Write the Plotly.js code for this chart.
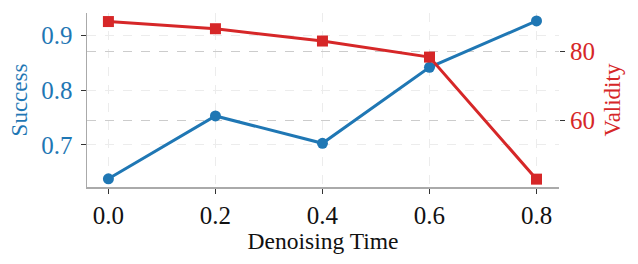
<!DOCTYPE html>
<html>
<head>
<meta charset="utf-8">
<script src="https://cdn.plot.ly/plotly-3.0.1.min.js"></script>
<style>
  html, body { margin: 0; padding: 0; background: #fff; }
  #chart { width: 638px; height: 264px; }
</style>
</head>
<body>
<div id="chart"></div>
<script>
// Denoising time sweep: success rate (left axis) and validity (right axis)
const denoisingTime = [0.0, 0.2, 0.4, 0.6, 0.8];
const success = [0.638, 0.753, 0.703, 0.842, 0.927];
const validity = [88.8, 86.7, 83.1, 78.4, 42.7];

const xTicks = [0.0, 0.2, 0.4, 0.6, 0.8];
const xTickText = ['0.0', '0.2', '0.4', '0.6', '0.8'];
const successTicks = [0.7, 0.8, 0.9];
const successTickText = ['0.7', '0.8', '0.9'];
const validityTicks = [60, 80];
const validityTickText = ['60', '80'];

const BLUE = '#1f77b4';
const RED = '#d62728';
const FONT = 'Liberation Serif';

const traces = [
  {
    x: denoisingTime, y: success, yaxis: 'y', name: 'Success',
    mode: 'lines+markers', type: 'scatter',
    line: { color: BLUE, width: 3 },
    marker: { color: BLUE, size: 11, symbol: 'circle' }
  },
  {
    x: denoisingTime, y: validity, yaxis: 'y2', name: 'Validity',
    mode: 'lines+markers', type: 'scatter',
    line: { color: RED, width: 3 },
    marker: { color: RED, size: 11, symbol: 'square' }
  }
];

const layout = {
  width: 638, height: 264,
  margin: { l: 87, r: 79, t: 13, b: 77 },
  paper_bgcolor: '#fff', plot_bgcolor: '#fff',
  showlegend: false,
  font: { family: FONT, color: '#111' },
  xaxis: {
    range: [-0.04, 0.842],
    tickvals: xTicks, ticktext: xTickText,
    tickfont: { family: FONT, size: 25, color: '#111' },
    ticks: 'outside', ticklen: 5, tickwidth: 1, tickcolor: '#333',
    showline: true, linecolor: '#aaa', linewidth: 1.5,
    showgrid: true, gridcolor: '#ececec', griddash: 'dash', gridwidth: 1,
    zeroline: false,
    title: { text: 'Denoising Time', font: { family: FONT, size: 23.5, color: '#111' }, standoff: 5 }
  },
  yaxis: {
    range: [0.623, 0.9415],
    tickvals: successTicks, ticktext: successTickText,
    tickfont: { family: FONT, size: 25, color: BLUE },
    ticks: 'outside', ticklen: 5, tickwidth: 1, tickcolor: '#333',
    ticklabelstandoff: 3,
    showline: true, linecolor: '#aaa', linewidth: 1.5,
    showgrid: true, gridcolor: '#ececec', griddash: 'dash', gridwidth: 1,
    zeroline: false,
    title: { text: 'Success', font: { family: FONT, size: 23, color: BLUE }, standoff: 7 }
  },
  yaxis2: {
    overlaying: 'y', side: 'right',
    range: [40.4, 91.3],
    tickvals: validityTicks, ticktext: validityTickText,
    tickfont: { family: FONT, size: 25, color: RED },
    ticks: 'outside', ticklen: 5, tickwidth: 1, tickcolor: '#333',
    showline: false,
    showgrid: true, gridcolor: '#cccccc', griddash: 'dash', gridwidth: 1,
    zeroline: false,
    title: { text: 'Validity', font: { family: FONT, size: 23, color: RED }, standoff: 9 }
  }
};

Plotly.newPlot('chart', traces, layout, { staticPlot: true, displayModeBar: false });
</script>
</body>
</html>
